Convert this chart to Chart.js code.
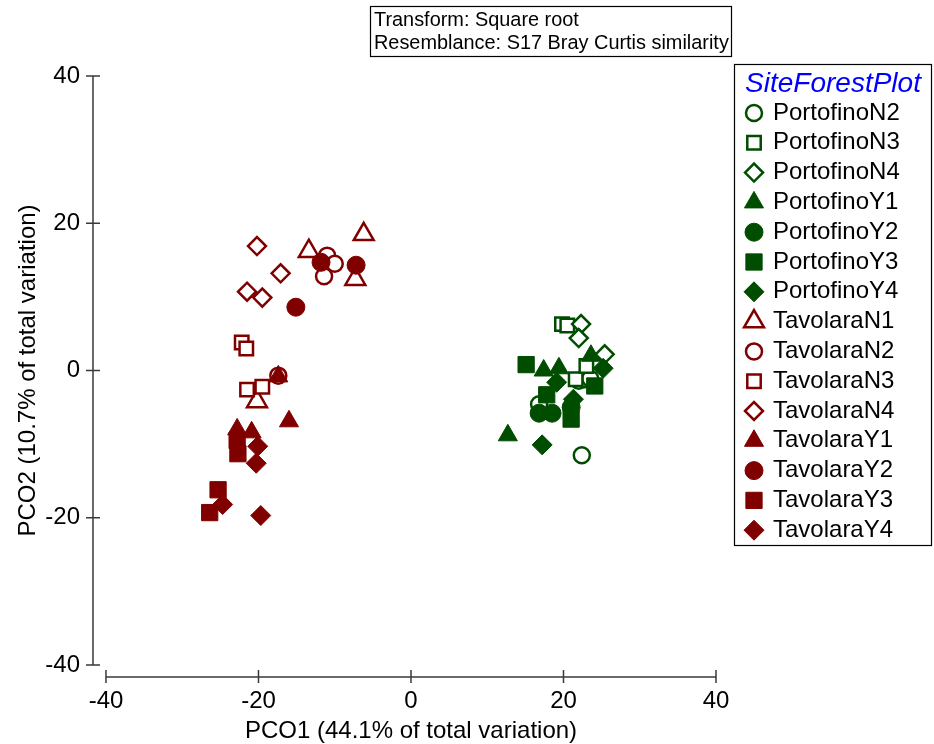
<!DOCTYPE html>
<html>
<head>
<meta charset="utf-8">
<title>PCO</title>
<script src="https://cdn.jsdelivr.net/npm/chart.js@4.4.1/dist/chart.umd.min.js"></script>
<style>
    html, body { margin:0; padding:0; background:#fff; }
    #wrap { width:934px; height:744px; }
</style>
</head>
<body>
<div id="wrap"><canvas id="pcoChart" width="934" height="744"></canvas></div>
<script>
const FONT = "'Liberation Sans', Arial, sans-serif";
const GREEN = '#004d00';
const RED = '#800000';

const xTicks = [-40, -20, 0, 20, 40];
const yTicks = [-40, -20, 0, 20, 40];
const xTitle = 'PCO1 (44.1% of total variation)';
const yTitle = 'PCO2 (10.7% of total variation)';
const notes = ['Transform: Square root', 'Resemblance: S17 Bray Curtis similarity'];
const legendTitle = 'SiteForestPlot';

// [PCO1, PCO2]
const portofinoN2 = [[16.8,-4.6],[22.4,-11.5],[22.0,-1.4],[22.8,-1.2],[23.5,-1.1]];
const portofinoN3 = [[19.8,6.3],[20.5,6.1],[21.6,-1.2],[23.0,0.6]];
const portofinoN4 = [[22.3,6.3],[22.0,4.4],[25.4,2.2]];
const portofinoY1 = [[17.4,0.0],[19.4,0.3],[23.6,2.0],[12.7,-8.8]];
const portofinoY2 = [[16.8,-5.8],[18.5,-5.8],[21.0,-5.0]];
const portofinoY3 = [[15.1,0.8],[17.8,-3.3],[21.0,-6.6],[24.1,-2.1]];
const portofinoY4 = [[19.1,-1.6],[21.3,-3.9],[17.2,-10.1],[25.2,0.3]];
const tavolaraN1 = [[-13.4,16.2],[-6.2,18.5],[-7.3,12.4],[-20.2,-4.2]];
const tavolaraN2 = [[-11.0,15.6],[-10.0,14.5],[-11.4,12.8],[-17.4,-0.7]];
const tavolaraN3 = [[-22.2,3.8],[-21.6,3.0],[-21.5,-2.6],[-19.5,-2.2]];
const tavolaraN4 = [[-20.2,16.9],[-17.1,13.2],[-21.5,10.7],[-19.5,9.9]];
const tavolaraY1 = [[-17.4,-0.8],[-16.0,-6.9],[-22.8,-8.0],[-20.9,-8.4]];
const tavolaraY2 = [[-11.8,14.7],[-7.2,14.3],[-15.1,8.6]];
const tavolaraY3 = [[-22.8,-9.5],[-22.7,-11.3],[-25.3,-16.2],[-26.4,-19.3]];
const tavolaraY4 = [[-20.1,-10.3],[-20.3,-12.6],[-24.7,-18.2],[-19.7,-19.7]];

// label, points, colour, shape, open marker
const groups = [
    ['PortofinoN2', portofinoN2, GREEN, 'circle', true],
    ['PortofinoN3', portofinoN3, GREEN, 'rect', true],
    ['PortofinoN4', portofinoN4, GREEN, 'rectRot', true],
    ['PortofinoY1', portofinoY1, GREEN, 'triangle', false],
    ['PortofinoY2', portofinoY2, GREEN, 'circle', false],
    ['PortofinoY3', portofinoY3, GREEN, 'rect', false],
    ['PortofinoY4', portofinoY4, GREEN, 'rectRot', false],
    ['TavolaraN1', tavolaraN1, RED, 'triangle', true],
    ['TavolaraN2', tavolaraN2, RED, 'circle', true],
    ['TavolaraN3', tavolaraN3, RED, 'rect', true],
    ['TavolaraN4', tavolaraN4, RED, 'rectRot', true],
    ['TavolaraY1', tavolaraY1, RED, 'triangle', false],
    ['TavolaraY2', tavolaraY2, RED, 'circle', false],
    ['TavolaraY3', tavolaraY3, RED, 'rect', false],
    ['TavolaraY4', tavolaraY4, RED, 'rectRot', false]
];

// marker radius [open, filled]
const sizes = { circle:[8, 9], rect:[9.5, 11.5], rectRot:[9, 10], triangle:[11.5, 11] };

const datasets = groups.map(([label, pts, color, shape, open], i) => ({
    label,
    data: pts.map(p => ({x:p[0], y:p[1]})),
    order: -i,
    pointStyle: shape,
    pointRadius: sizes[shape][open ? 0 : 1],
    pointHoverRadius: sizes[shape][open ? 0 : 1],
    pointBackgroundColor: open ? '#ffffff' : color,
    pointBorderColor: color,
    pointBorderWidth: open ? 2.5 : 1,
    showLine: false
}));

// detached axes like PRIMER draws them
const axisLines = {
    id: 'axisLines',
    afterDraw(chart){
        const {ctx, chartArea, scales:{x, y}} = chart;
        ctx.save();
        ctx.strokeStyle = '#3a3a3a';
        ctx.lineWidth = 1.5;
        ctx.beginPath();
        const ax = chartArea.left - 13;
        ctx.moveTo(ax, y.getPixelForValue(yTicks[yTicks.length-1]));
        ctx.lineTo(ax, y.getPixelForValue(yTicks[0]));
        yTicks.forEach(v=>{
            const py = y.getPixelForValue(v);
            ctx.moveTo(ax-7, py); ctx.lineTo(ax+7, py);
        });
        const ay = chartArea.bottom + 12;
        ctx.moveTo(x.getPixelForValue(xTicks[0]), ay);
        ctx.lineTo(x.getPixelForValue(xTicks[xTicks.length-1]), ay);
        xTicks.forEach(v=>{
            const px = x.getPixelForValue(v);
            ctx.moveTo(px, ay-7); ctx.lineTo(px, ay+6);
        });
        ctx.stroke();
        ctx.restore();
    }
};

// note box on top + legend box on the right
const boxes = {
    id: 'boxes',
    afterDraw(chart){
        const {ctx} = chart;
        ctx.save();
        ctx.strokeStyle = '#000';
        ctx.lineWidth = 1.2;
        ctx.strokeRect(370.5, 6.5, 361, 50);
        ctx.fillStyle = '#000';
        ctx.font = '19.9px ' + FONT;
        ctx.textAlign = 'left';
        ctx.textBaseline = 'alphabetic';
        notes.forEach((t, i)=> ctx.fillText(t, 374, 26 + i*23));

        ctx.strokeRect(734.5, 64.5, 197, 481);
        ctx.fillStyle = '#0000ff';
        ctx.font = 'italic 28px ' + FONT;
        ctx.textAlign = 'center';
        ctx.textBaseline = 'middle';
        ctx.fillText(legendTitle, 833, 84);

        ctx.font = '24px ' + FONT;
        ctx.textAlign = 'left';
        chart.data.datasets.forEach((ds, i)=>{
            const cy = 113 + i*29.8;
            ctx.fillStyle = ds.pointBackgroundColor;
            ctx.strokeStyle = ds.pointBorderColor;
            ctx.lineWidth = ds.pointBorderWidth;
            Chart.helpers.drawPoint(ctx, {pointStyle: ds.pointStyle, radius: ds.pointRadius, borderWidth: ds.pointBorderWidth, rotation: 0}, 754, cy);
            ctx.fillStyle = '#000';
            ctx.fillText(ds.label, 773, cy);
        });
        ctx.restore();
    }
};

const ctx = document.getElementById('pcoChart').getContext('2d');
const chart = new Chart(ctx, {
    type: 'scatter',
    data: { datasets },
    plugins: [axisLines, boxes],
    options: {
        responsive: false,
        animation: false,
        layout: { padding: { left: 14, top: 76, right: 218, bottom: -2 } },
        plugins: { legend: { display:false }, tooltip: { enabled:false } },
        scales: {
            x: {
                type: 'linear', min: -40, max: 40,
                afterBuildTicks: s => { s.ticks = xTicks.map(v=>({value:v})); },
                grid: { display:false, drawTicks:false },
                border: { display:false },
                ticks: { color:'#000', padding:22, font:{ family:FONT, size:24 } },
                title: { display:true, text:xTitle, color:'#000', padding:{top:-20.6, bottom:0}, font:{ family:FONT, size:24 } }
            },
            y: {
                type: 'linear', min: -40, max: 40,
                afterBuildTicks: s => { s.ticks = yTicks.map(v=>({value:v})); },
                grid: { display:false, drawTicks:false },
                border: { display:false },
                ticks: { color:'#000', padding:26, font:{ family:FONT, size:24 } },
                title: { display:true, text:yTitle, color:'#000', padding:{top:0, bottom:-23.5}, font:{ family:FONT, size:24 } }
            }
        }
    }
});
</script>
</body>
</html>
